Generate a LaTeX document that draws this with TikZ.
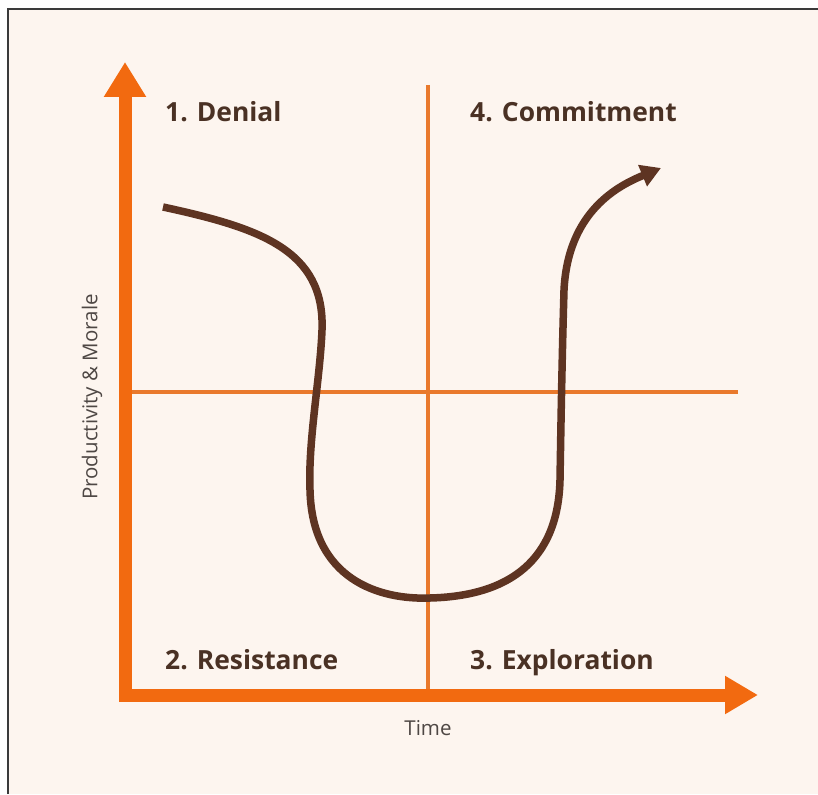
\documentclass[tikz,border=0pt]{standalone}
\usepackage{fontspec}
\setmainfont{Open Sans}
\usetikzlibrary{arrows.meta}
\definecolor{paper}{HTML}{FDF5EF}
\definecolor{frameline}{HTML}{3A3A3A}
\definecolor{axisorange}{HTML}{F26A10}
\definecolor{gridorange}{HTML}{E9792C}
\definecolor{curvebrown}{HTML}{5E3422}
\definecolor{labelbrown}{HTML}{4A3124}
\definecolor{axistext}{HTML}{4E4744}
\tikzset{
  axis/.style={draw=axisorange, line width=13pt, line join=miter},
  quadline/.style={draw=gridorange, line width=4pt},
  curve/.style={draw=curvebrown, line width=7.5pt, line cap=butt},
  stage/.style={font=\bfseries\fontsize{26.4}{31}\selectfont, text=labelbrown, inner sep=0pt, anchor=base west},
  axislabel/.style={font=\fontsize{20.5}{24}\selectfont, text=axistext, inner sep=0pt}
}
\begin{document}
\begin{tikzpicture}[x=1pt, y=-1pt]
  % page and panel
  \useasboundingbox (0,0) rectangle (818,794);
  \fill[white] (0,0) rectangle (818,794);
  \fill[paper] (8,9) rectangle (818,794);
  \draw[frameline, line width=2pt] (8,794) -- (8,9) -- (818,9);

  % key points
  \coordinate (origin) at (125,695);
  \coordinate (ytop) at (125,62);
  \coordinate (xend) at (758,695);
  \coordinate (vtop) at (428,85);
  \coordinate (vbot) at (428,690);
  \coordinate (hleft) at (131,392);
  \coordinate (hright) at (738,392);

  % quadrant dividers
  \draw[quadline] (vtop) -- (vbot);
  \draw[quadline] (hleft) -- (hright);

  % axes
  \draw[axis, {Triangle[length=35pt,width=40pt]}-{Triangle[length=33pt,width=36pt]}]
    (ytop) -- (origin) -- (xend);

  % change curve
  \coordinate (cstart) at (163,207);
  \coordinate (cend) at (661,168);
  \draw[curve, -{Triangle[length=20pt,width=22pt]}] (cstart)
    .. controls (260,228) and (325,250) .. (322,330)
    .. controls (320,380) and (308,440) .. (310,490)
    .. controls (312,580) and (380,600) .. (430,598)
    .. controls (510,596) and (558,560) .. (560,480)
    .. controls (561,420) and (562,360) .. (564,290)
    .. controls (568,210) and (620,185) .. (cend);

  % stage labels
  \node[stage] (denial) at (165,122) {1. Denial};
  \node[stage] (commitment) at (470,122) {4. Commitment};
  \node[stage] (resistance) at (165,669) {2. Resistance};
  \node[stage] (exploration) at (470,669) {3. Exploration};

  % axis labels
  \node[axislabel, rotate=90] (ylabel) at (92,397) {Productivity \& Morale};
  \node[axislabel] (xlabel) at (428,728) {Time};
\end{tikzpicture}
\end{document}
